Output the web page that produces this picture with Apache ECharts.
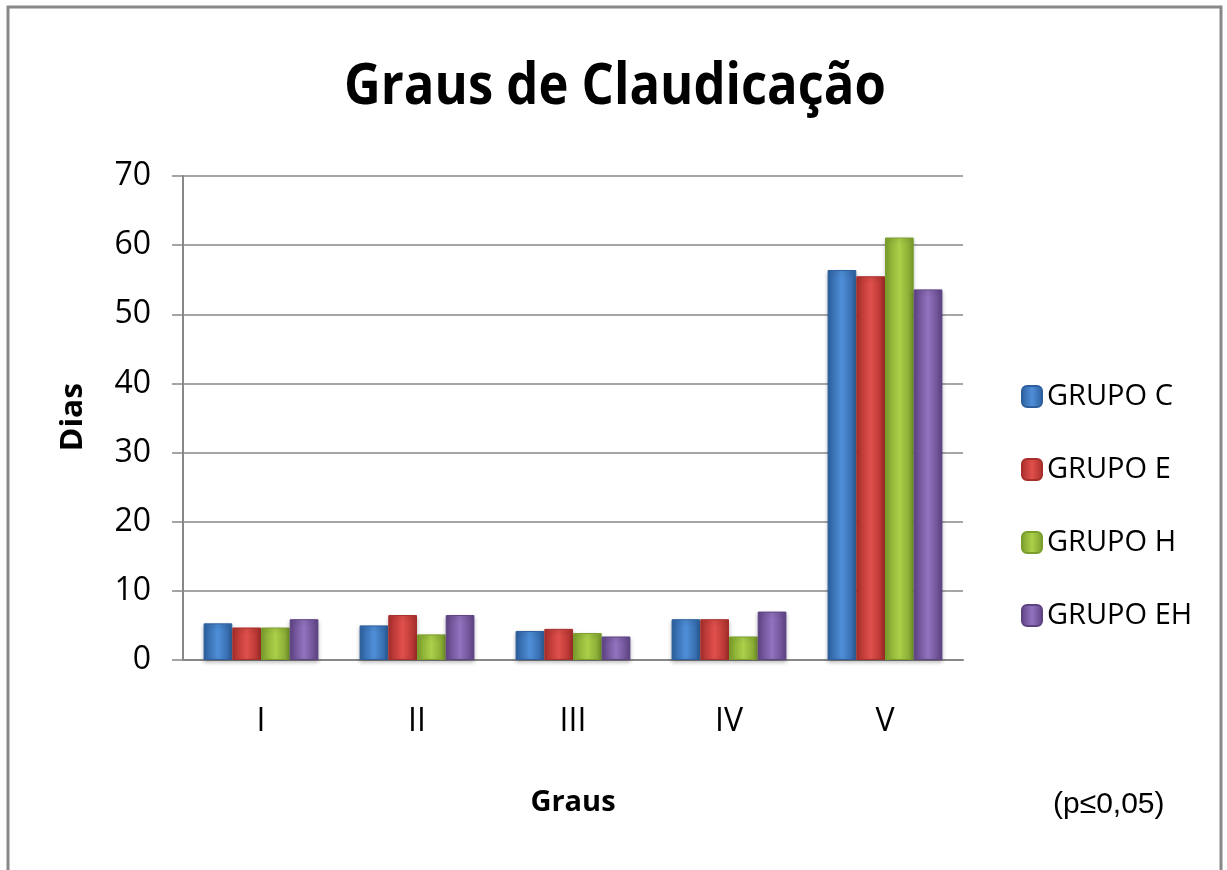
<!DOCTYPE html>
<html>
<head>
<meta charset="utf-8">
<script src="https://cdn.jsdelivr.net/npm/echarts@6/dist/echarts.min.js"></script>
<style>
  html, body { margin: 0; padding: 0; background: #fff; }
  #chart { width: 1227px; height: 870px; }
</style>
</head>
<body>
<div id="chart"></div>
<script>
// dados
const graus = ['I', 'II', 'III', 'IV', 'V']
const grupoC = [5.3, 5.0, 4.2, 5.9, 56.4]
const grupoE = [4.7, 6.5, 4.5, 5.9, 55.5]
const grupoH = [4.7, 3.7, 3.9, 3.4, 61.1]
const grupoEH = [5.9, 6.5, 3.4, 7.0, 53.6]
const yTicks = [0, 10, 20, 30, 40, 50, 60, 70]

const fonte = '"Open Sans", sans-serif'

const cores = {
  c: ['#2c5f9e', '#4f8fd8', '#2c5f9e'],
  e: ['#a82e2b', '#e0504c', '#a82e2b'],
  h: ['#7a9e2c', '#add04a', '#7a9e2c'],
  eh: ['#5e4384', '#9273bf', '#5e4384'],
}

function grad(c) {
  return new echarts.graphic.LinearGradient(0, 0, 1, 0, [
    { offset: 0, color: c[0] },
    { offset: 0.5, color: c[1] },
    { offset: 1, color: c[2] },
  ])
}

function serie(name, data, c) {
  return {
    name: name,
    type: 'bar',
    data: data,
    barGap: '0%',
    barCategoryGap: '26.4%',
    itemStyle: {
      color: grad(c),
      borderColor: c[0],
      borderWidth: 1,
      shadowColor: 'rgba(0,0,0,0.25)',
      shadowBlur: 4,
      shadowOffsetY: 2,
    },
  }
}

const chart = echarts.init(document.getElementById('chart'))
chart.setOption({
  animation: false,
  textStyle: { fontFamily: fonte },
  legend: {
    orient: 'vertical',
    left: 1016,
    top: 377,
    itemWidth: 20,
    itemHeight: 21,
    itemGap: 44,
    textStyle: { fontSize: 29, color: '#000', fontFamily: fonte },
    data: ['GRUPO C', 'GRUPO E', 'GRUPO H', 'GRUPO EH'],
  },
  grid: { left: 183, right: 264, top: 176, bottom: 210, containLabel: false },
  xAxis: {
    type: 'category',
    data: graus,
    axisLine: { lineStyle: { color: '#888', width: 2 } },
    axisTick: { show: false },
    axisLabel: { fontSize: 32, color: '#000', margin: 46, fontFamily: fonte },
    name: 'Graus',
    nameLocation: 'middle',
    nameGap: 128,
    nameTextStyle: { fontSize: 29, fontWeight: 'bold', color: '#000', fontFamily: fonte },
  },
  yAxis: {
    type: 'value',
    min: 0,
    max: 70,
    interval: 10,
    axisLine: { show: true, lineStyle: { color: '#888', width: 2 } },
    axisTick: { show: true, length: 11, lineStyle: { color: '#888', width: 1.5 } },
    splitLine: { lineStyle: { color: '#888', width: 1.5 } },
    axisLabel: {
      fontSize: 32,
      color: '#000',
      margin: 32,
      fontFamily: fonte,
      formatter: v => (yTicks.includes(v) ? String(v) : ''),
    },
  },
  graphic: [
    {
      type: 'rect',
      shape: { x: 8, y: 7, width: 1213, height: 900 },
      style: { fill: 'none', stroke: '#888', lineWidth: 3 },
      silent: true,
    },
    // título (fonte estreitada como no original)
    {
      type: 'text',
      x: 615,
      y: 87,
      scaleX: 0.875,
      style: {
        text: 'Graus de Claudicação',
        fontSize: 58,
        fontWeight: 'bold',
        fill: '#000',
        fontFamily: fonte,
        align: 'center',
        verticalAlign: 'middle',
      },
    },
    {
      type: 'text',
      x: 73,
      y: 417,
      rotation: Math.PI / 2,
      scaleX: 1.06,
      style: {
        text: 'Dias',
        fontSize: 30,
        fontWeight: 'bold',
        fill: '#000',
        fontFamily: fonte,
        align: 'center',
        verticalAlign: 'middle',
      },
    },
    {
      type: 'text',
      left: 1053,
      top: 790,
      style: { text: '(p≤0,05)', fontSize: 30, fill: '#000', fontFamily: 'Liberation Sans' },
    },
  ],
  series: [
    serie('GRUPO C', grupoC, cores.c),
    serie('GRUPO E', grupoE, cores.e),
    serie('GRUPO H', grupoH, cores.h),
    serie('GRUPO EH', grupoEH, cores.eh),
  ],
})
</script>
</body>
</html>
